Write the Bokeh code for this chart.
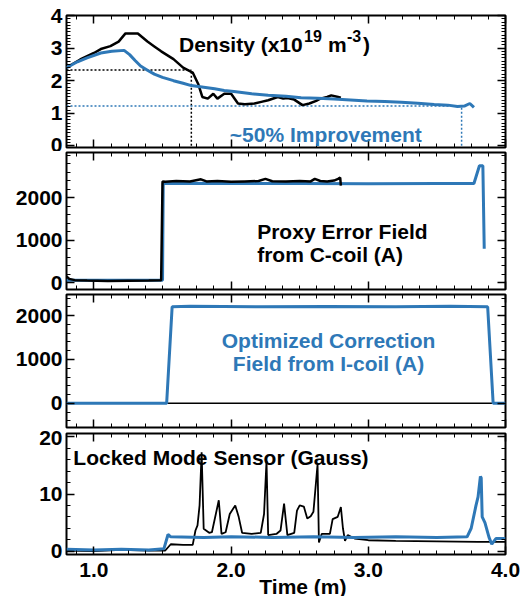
import numpy as np
from bokeh.plotting import figure
from bokeh.layouts import column
from bokeh.models import Range1d, LinearAxis, FixedTicker, Label
from bokeh.embed import file_html
from bokeh.resources import INLINE

BLUE = "#2e78b7"
FONT = "'Liberation Sans', Arial, sans-serif"

# ---------------- data ----------------
x_ticks = [1.0, 2.0, 3.0, 4.0]
x_tick_labels = {1.0: "1.0", 2.0: "2.0", 3.0: "3.0", 4.0: "4.0"}
x_title = "Time (m)"

# Panel 1: density (x10^19 m^-3)
dens_black_t = [0.8, 0.9, 1.0, 1.05, 1.12, 1.18, 1.23, 1.32, 1.39, 1.44, 1.49, 1.58, 1.65,
                1.72, 1.76, 1.79, 1.83, 1.87, 1.90, 1.95, 2.0, 2.05, 2.10, 2.17, 2.22, 2.27,
                2.34, 2.38, 2.41, 2.46, 2.52, 2.57, 2.62, 2.65, 2.70, 2.73, 2.78, 2.80]
dens_black = [2.4, 2.65, 2.85, 2.97, 3.06, 3.2, 3.45, 3.45, 3.2, 3.05, 2.9, 2.66, 2.4,
              2.25, 1.9, 1.5, 1.45, 1.6, 1.45, 1.6, 1.6, 1.3, 1.28, 1.3, 1.35, 1.4,
              1.5, 1.45, 1.47, 1.42, 1.25, 1.3, 1.38, 1.45, 1.5, 1.55, 1.5, 1.48]
dens_blue_t = [0.8, 0.88, 0.95, 1.05, 1.13, 1.22, 1.26, 1.30, 1.34, 1.39, 1.44, 1.50, 1.58,
               1.65, 1.71, 1.80, 1.88, 1.95, 2.02, 2.15, 2.27, 2.40, 2.51, 2.63, 2.75, 2.87,
               2.99, 3.12, 3.24, 3.36, 3.48, 3.58, 3.65, 3.70, 3.74, 3.77]
dens_blue = [2.4, 2.58, 2.7, 2.85, 2.9, 2.93, 2.8, 2.62, 2.45, 2.32, 2.2, 2.1, 2.0,
             1.92, 1.85, 1.8, 1.75, 1.7, 1.67, 1.6, 1.55, 1.52, 1.48, 1.46, 1.44, 1.41,
             1.38, 1.36, 1.34, 1.31, 1.27, 1.25, 1.21, 1.22, 1.3, 1.18]
ref_black_t, ref_black_v = 1.71, 2.33
ref_blue_t, ref_blue_v = 3.68, 1.22

# Panel 2: proxy error field from C-coil (A)
ef_black_t = [0.8, 0.82, 0.86, 0.95, 1.1, 1.25, 1.4, 1.49, 1.50, 1.52, 1.6, 1.7, 1.78, 1.82,
              1.9, 2.0, 2.1, 2.2, 2.25, 2.3, 2.4, 2.5, 2.58, 2.61, 2.65, 2.7, 2.75, 2.78,
              2.795, 2.8]
ef_black = [150, 90, 60, 50, 40, 45, 50, 60, 2380, 2370, 2390, 2380, 2430, 2380,
            2390, 2370, 2380, 2390, 2440, 2385, 2380, 2390, 2380, 2440, 2390, 2380, 2400, 2440,
            2470, 2280]
ef_blue_t = [0.8, 1.5, 1.505, 2.0, 2.5, 3.0, 3.5, 3.77, 3.81, 3.835, 3.845]
ef_blue = [60, 60, 2330, 2335, 2330, 2325, 2330, 2330, 2750, 2750, 800]

# Panel 3: optimized correction field from I-coil (A)
ic_blue_t = [0.8, 1.53, 1.57, 1.7, 2.2, 2.7, 3.2, 3.6, 3.87, 3.91, 4.0]
ic_blue = [0, 0, 2200, 2210, 2200, 2205, 2200, 2210, 2200, 0, 0]
ic_black_t = [0.8, 4.0]
ic_black = [0, 0]

# Panel 4: locked mode sensor (Gauss)
lm_black_t = [0.8, 1.0, 1.2, 1.4, 1.52, 1.56, 1.65, 1.72, 1.74, 1.755, 1.77, 1.785, 1.80,
              1.84, 1.86, 1.91, 1.93, 1.96, 1.99, 2.03, 2.055, 2.08, 2.15, 2.216, 2.24,
              2.258, 2.27, 2.33, 2.36, 2.386, 2.41, 2.46, 2.48, 2.5, 2.53, 2.555, 2.58,
              2.60, 2.63, 2.64, 2.66, 2.72, 2.74, 2.777, 2.80, 2.815, 2.83, 2.85, 2.9,
              3.0, 3.2, 3.5, 3.8, 4.0]
lm_black = [0.1, 0.0, 0.2, 0.1, 0.1, 1.2, 1.1, 1.1, 3.6, 4.5, 8.0, 17.3, 3.9,
            3.2, 3.3, 8.9, 3.0, 3.3, 6.5, 8.0, 6.0, 3.2, 3.0, 3.2, 6.5,
            15.8, 2.8, 3.0, 3.6, 8.3, 2.8, 3.2, 7.1, 8.0, 7.8, 5.7, 6.1,
            6.9, 15.2, 1.5, 3.0, 3.0, 5.6, 6.0, 7.7, 4.0, 1.8, 2.8, 2.2,
            1.9, 1.8, 1.7, 1.6, 1.6]
lm_blue_t = [0.8, 1.0, 1.2, 1.4, 1.51, 1.54, 1.56, 1.8, 2.0, 2.3, 2.6, 2.9, 3.2, 3.5,
             3.72, 3.75, 3.785, 3.80, 3.817, 3.823, 3.83, 3.85, 3.88, 3.90, 3.93, 4.0]
lm_blue = [0.3, 0.2, 0.3, 0.2, 0.4, 2.9, 2.5, 2.4, 2.5, 2.4, 2.5, 2.4, 2.5, 2.4,
           2.5, 4.0, 8.0, 9.5, 13.1, 12.8, 6.0, 5.0, 2.4, 1.2, 2.2, 2.2]

X0, X1 = 0.8, 4.0
BL, FW, W = 66, 439, 525
BR = W - BL - FW


def make_fig(height, yr, yticks, yminor, bt, bb, xlabels=False):
    p = figure(width=W, height=height, x_range=Range1d(X0, X1), y_range=Range1d(*yr),
               output_backend="svg", toolbar_location=None,
               x_axis_location=None, y_axis_location=None,
               min_border_left=BL, min_border_right=BR,
               min_border_top=bt, min_border_bottom=bb)
    p.grid.visible = False
    p.outline_line_color = "black"
    p.outline_line_width = 2
    p.background_fill_color = "white"
    p.border_fill_color = "white"
    xt = FixedTicker(ticks=x_ticks, minor_ticks=list(np.arange(0.875, 4.0, 0.125)))
    yt = FixedTicker(ticks=yticks, minor_ticks=yminor)
    for loc, ticker, ticks, show in [("below", xt, x_ticks, xlabels), ("above", xt, x_ticks, False),
                                     ("left", yt, yticks, True), ("right", yt, yticks, False)]:
        ax = LinearAxis(ticker=ticker)
        ax.axis_line_color = None
        ax.major_tick_in = 8
        ax.major_tick_out = 0
        ax.minor_tick_in = 4
        ax.minor_tick_out = 0
        ax.major_tick_line_width = 1.5
        ax.minor_tick_line_width = 1
        if show:
            ax.major_label_text_font = FONT
            ax.major_label_text_font_style = "bold"
            ax.major_label_text_font_size = "21px"
            ax.major_label_text_color = "black"
            ax.major_label_standoff = 4
            if loc == "below":
                ax.major_label_overrides = x_tick_labels
                ax.major_label_standoff = 8
        else:
            ax.major_label_text_font_size = "1px"
            ax.major_label_overrides = {t: "" for t in ticks}
            ax.major_label_standoff = 0
        p.add_layout(ax, loc)
    return p


def lab(p, x, y, text, color="black", align="left", size="21px", xo=0, yo=0):
    p.add_layout(Label(x=x, y=y, text=text, text_color=color, text_align=align,
                       text_font=FONT, text_font_style="bold", text_font_size=size,
                       text_baseline="alphabetic", x_offset=xo, y_offset=yo))


# Panel 1 (frame 15..147)
p1 = make_fig(151, (-0.05, 4.0), [0, 1, 2, 3, 4], list(np.arange(0, 4.0, 0.1)), 15, 4)
p1.line([X0, ref_black_t], [ref_black_v, ref_black_v], line_color="black", line_width=1.5, line_dash="2 2")
p1.line([ref_black_t, ref_black_t], [0, ref_black_v], line_color="black", line_width=1.5, line_dash="2 2")
p1.line([X0, ref_blue_t], [ref_blue_v, ref_blue_v], line_color=BLUE, line_width=1.5, line_dash="2 2")
p1.line([ref_blue_t, ref_blue_t], [0, ref_blue_v], line_color=BLUE, line_width=1.5, line_dash="2 2")
p1.line(dens_black_t, dens_black, line_color="black", line_width=2.5)
p1.line(dens_blue_t, dens_blue, line_color=BLUE, line_width=3)
lab(p1, 1.62, 3.1, "Density (x10")
lab(p1, 1.62, 3.1, "19", size="16px", xo=125, yo=9)
lab(p1, 1.62, 3.1, "m", xo=149)
lab(p1, 1.62, 3.1, "-3", size="16px", xo=168, yo=9)
lab(p1, 1.62, 3.1, ")", xo=184)
lab(p1, 2.69, 0.36, "~50% Improvement", color=BLUE, align="center")

# Panel 2 (frame 152..289)
p2 = make_fig(140, (-160, 3060), [0, 1000, 2000], list(np.arange(0, 3060, 200)), 1, 2)
p2.line(ef_blue_t, ef_blue, line_color=BLUE, line_width=3)
p2.line(ef_black_t, ef_black, line_color="black", line_width=2.5)
lab(p2, 2.19, 1200, "Proxy Error Field")
lab(p2, 2.19, 660, "from C-coil (A)")

# Panel 3 (frame 294..427)
p3 = make_fig(139, (-550, 2480), [0, 1000, 2000], list(np.arange(-400, 2480, 200)), 3, 3)
p3.line(ic_black_t, ic_black, line_color="black", line_width=1.5)
p3.line(ic_blue_t, ic_blue, line_color=BLUE, line_width=3)
lab(p3, 2.71, 1430, "Optimized Correction", color=BLUE, align="center")
lab(p3, 2.71, 910, "Field from I-coil (A)", color=BLUE, align="center")

# Panel 4 (frame 433..554)
p4 = make_fig(157, (-0.6, 20.6), [0, 10, 20], list(np.arange(0, 20.6, 2)), 3, 33, xlabels=True)
p4.line(lm_black_t, lm_black, line_color="black", line_width=1.8)
p4.line(lm_blue_t, lm_blue, line_color=BLUE, line_width=3)
lab(p4, 0.85, 16.4, "Locked Mode Sensor (Gauss)")

# x-axis title strip (transparent, slightly overlapping the bottom panel's label band)
scale = FW / (X1 - X0)
H5 = 20
p5 = figure(width=W, height=H5, x_range=Range1d(X0 - BL / scale, X1 + BR / scale),
            y_range=Range1d(0, H5), output_backend="svg", toolbar_location=None,
            x_axis_location=None, y_axis_location=None,
            min_border=0, min_border_left=0, min_border_right=0,
            min_border_top=0, min_border_bottom=0,
            styles={"margin-top": "-11px"})
p5.grid.visible = False
p5.outline_line_color = None
p5.border_fill_alpha = 0
p5.background_fill_alpha = 0
p5.add_layout(Label(x=2.38, y=H5 / 2, text=x_title, text_color="black", text_align="center",
                    text_font=FONT, text_font_style="bold", text_font_size="21px",
                    text_baseline="middle"))

layout = column(p1, p2, p3, p4, p5, spacing=0)
open("out.html", "w").write(file_html(layout, INLINE))
